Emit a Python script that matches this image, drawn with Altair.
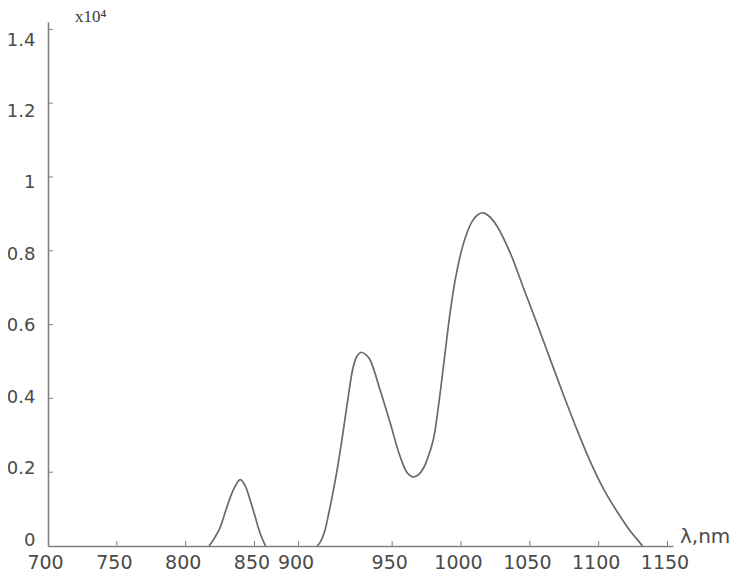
import altair as alt
import pandas as pd

# Curve 1 (small peak) – wavelength (nm) and intensity (x10^4)
peak1_nm = [817, 820, 825, 830, 835, 839.6, 843, 846.8, 850.5, 854, 858]
peak1_val = [0, 0.016, 0.05, 0.106, 0.155, 0.18, 0.165, 0.125, 0.079, 0.035, 0]

# Curve 2 (double peak)
peak2_nm = [895.5, 898, 901, 904, 907, 910, 914, 917.4, 921.7, 924.5, 927.5, 931, 934,
            941.3, 948.6, 955.9, 961, 965.3, 969, 972.6, 976, 980, 984, 988, 992, 996,
            1000, 1004, 1008, 1012, 1016, 1020, 1026, 1035.9, 1045.3, 1055.5, 1064.9,
            1074.4, 1084.6, 1094, 1103.5, 1113.6, 1123, 1128, 1131.8]
peak2_val = [0, 0.012, 0.04, 0.09, 0.145, 0.206, 0.30, 0.387, 0.485, 0.515, 0.525, 0.518, 0.504,
             0.422, 0.333, 0.241, 0.198, 0.187, 0.193, 0.21, 0.24, 0.29, 0.39, 0.51, 0.63, 0.725,
             0.795, 0.845, 0.879, 0.897, 0.903, 0.895, 0.868, 0.793, 0.70, 0.60, 0.505,
             0.41, 0.312, 0.228, 0.155, 0.092, 0.04, 0.018, 0]

x_tick_values = [700, 750, 800, 850, 882, 950, 1000, 1050, 1100, 1150]
x_tick_labels = ["700", "750", "800", "850", "900", "950", "1000", "1050", "1100", "1150"]
y_tick_values = [0, 0.2, 0.4, 0.6, 0.8, 1.0, 1.2, 1.4]

df = pd.DataFrame({
    "nm": peak1_nm + peak2_nm,
    "val": peak1_val + peak2_val,
    "seg": ["a"] * len(peak1_nm) + ["b"] * len(peak2_nm),
})

x_scale = alt.Scale(domain=[700, 1154], nice=False, zero=False)
y_scale = alt.Scale(domain=[0, 1.42], nice=False, zero=False)

axis_color = "#808080"
label_color = "#4a4a4a"

label_expr = "[" + ",".join(f"'{l}'" for l in x_tick_labels) + "][indexof([" + \
    ",".join(str(v) for v in x_tick_values) + "], datum.value)]"

x_axis = alt.Axis(values=x_tick_values, labelExpr=label_expr, ticks=False, grid=False,
                  domainColor=axis_color, domainWidth=1.6, labelFont="DejaVu Sans",
                  labelFontSize=19, labelColor=label_color, labelPadding=7,
                  labelOverlap=False, labelFlush=False, labelOffset=-3, title=None)
y_axis = alt.Axis(values=y_tick_values, format=".1~f", ticks=False, grid=False,
                  domainColor=axis_color, domainWidth=1.6, labelFont="DejaVu Sans",
                  labelFontSize=18, labelColor=label_color, labelPadding=13,
                  labelOverlap=False, labelFlush=False, labelBaseline="middle",
                  labelOffset={"expr": "-6 + 12 * datum.value"}, title=None)

line = alt.Chart(df).mark_line(color="#6a6a6a", strokeWidth=1.7, interpolate="catmull-rom").encode(
    x=alt.X("nm:Q", scale=x_scale, axis=x_axis),
    y=alt.Y("val:Q", scale=y_scale, axis=y_axis),
    detail="seg:N",
)

yt = alt.Chart(pd.DataFrame({"v": y_tick_values[1:]})).mark_rule(color=axis_color, strokeWidth=1).encode(
    y=alt.Y("v:Q", scale=y_scale, axis=y_axis),
    x=alt.value(0), x2=alt.value(5),
)
xt = alt.Chart(pd.DataFrame({"v": x_tick_values[1:]})).mark_rule(color=axis_color, strokeWidth=1).encode(
    x=alt.X("v:Q", scale=x_scale, axis=x_axis),
    y=alt.value(524), y2=alt.value(519),
)

ylab = alt.Chart(pd.DataFrame({"t": ["x10\u2074"]})).mark_text(
    align="left", baseline="alphabetic", font="Liberation Serif", fontSize=17, color="#3a3a3a"
).encode(x=alt.value(27), y=alt.value(0), text="t:N")

xlab = alt.Chart(pd.DataFrame({"t": ["\u03bb,nm"]})).mark_text(
    align="left", baseline="alphabetic", font="DejaVu Sans", fontSize=20, color=label_color
).encode(x=alt.value(632), y=alt.value(521), text="t:N")

chart = alt.layer(line, yt, xt, ylab, xlab).properties(
    width=625, height=524,
    autosize=alt.AutoSizeParams(type="none"),
    padding={"left": 40, "top": 14, "right": 60, "bottom": 28},
    background="white",
).configure_view(stroke=None)

chart.save("out.html", embed_options={"renderer": "svg", "actions": False})
